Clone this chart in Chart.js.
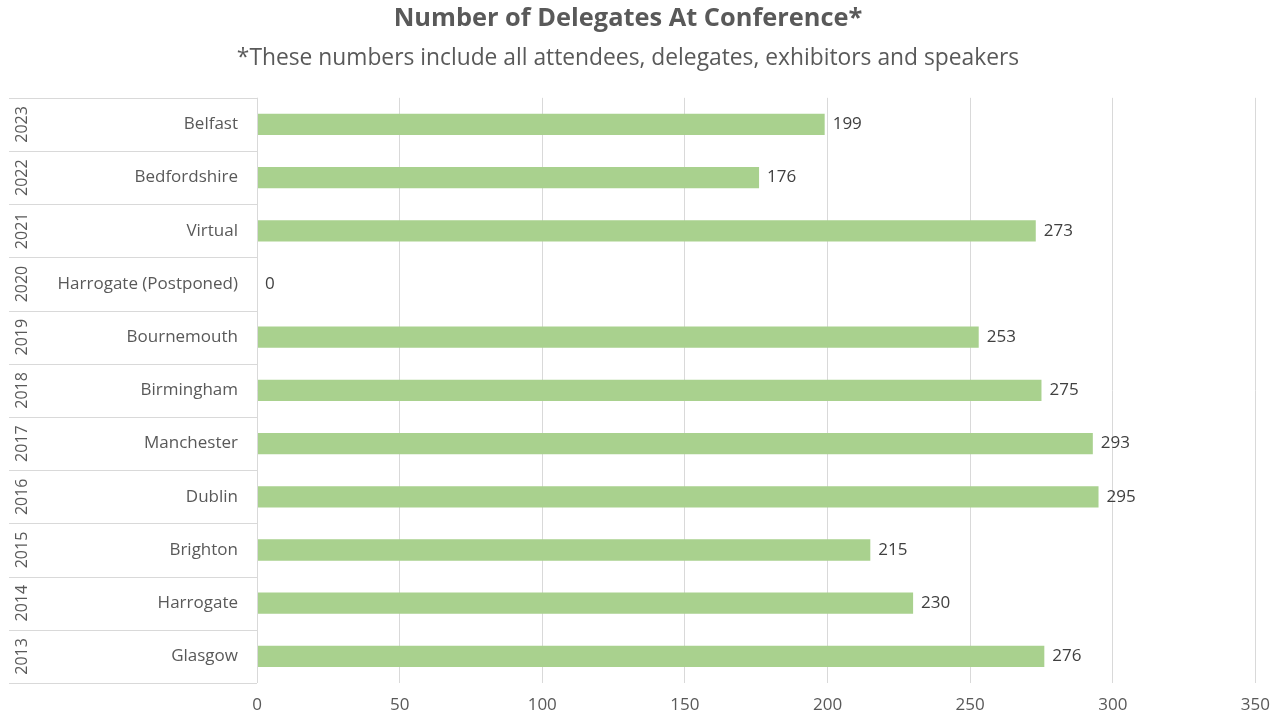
<!DOCTYPE html>
<html>
<head>
<meta charset="utf-8">
<script src="https://cdn.jsdelivr.net/npm/chart.js@4/dist/chart.umd.min.js"></script>
<style>
    html, body { margin: 0; padding: 0; background: #fff; }
    #wrap { width: 1282px; height: 719px; }
</style>
</head>
<body>
<div id="wrap"><canvas id="delegatesChart" width="1282" height="719"></canvas></div>
<script>
// Chart values
var venues = ['Belfast', 'Bedfordshire', 'Virtual', 'Harrogate (Postponed)', 'Bournemouth',
              'Birmingham', 'Manchester', 'Dublin', 'Brighton', 'Harrogate', 'Glasgow'];
var years = ['2023', '2022', '2021', '2020', '2019', '2018', '2017', '2016', '2015', '2014', '2013'];
var delegates = [199, 176, 273, 0, 253, 275, 293, 295, 215, 230, 276];
var xTicks = [0, 50, 100, 150, 200, 250, 300, 350];

var FONT = "'Open Sans', 'Noto Sans', sans-serif";
var TEXT = '#595959';

// Year column + separator lines on the left (multi-level category look)
var yearColumn = {
    id: 'yearColumn',
    afterDraw: function(chart) {
        var ctx = chart.ctx;
        var y = chart.scales.y;
        var area = chart.chartArea;
        var half = (y.getPixelForValue(1) - y.getPixelForValue(0)) / 2;
        ctx.save();
        ctx.strokeStyle = '#d9d9d9';
        ctx.lineWidth = 1;
        ctx.beginPath();
        for (var i = 0; i <= years.length; i++) {
            var py = Math.round(y.getPixelForValue(i) - half) + 0.5;
            ctx.moveTo(9, py);
            ctx.lineTo(area.left, py);
        }
        ctx.moveTo(area.left + 0.5, area.top);
        ctx.lineTo(area.left + 0.5, area.bottom);
        ctx.stroke();

        ctx.fillStyle = TEXT;
        ctx.font = '16px ' + FONT;
        ctx.textAlign = 'center';
        ctx.textBaseline = 'middle';
        years.forEach(function(yr, i) {
            ctx.save();
            ctx.translate(22, y.getPixelForValue(i));
            ctx.rotate(-Math.PI / 2);
            ctx.fillText(yr, 0, 0);
            ctx.restore();
        });
        ctx.restore();
    }
};

// Value labels at the end of each bar
var barValues = {
    id: 'barValues',
    afterDatasetsDraw: function(chart) {
        var ctx = chart.ctx;
        var meta = chart.getDatasetMeta(0);
        ctx.save();
        ctx.fillStyle = '#404040';
        ctx.font = '17px ' + FONT;
        ctx.textAlign = 'left';
        ctx.textBaseline = 'middle';
        meta.data.forEach(function(bar, i) {
            ctx.fillText(delegates[i], bar.x + 8, bar.y);
        });
        ctx.restore();
    }
};

new Chart(document.getElementById('delegatesChart'), {
    type: 'bar',
    data: {
        labels: venues,
        datasets: [{
            label: 'Delegates',
            data: delegates,
            backgroundColor: '#a9d18e',
            borderWidth: 0,
            categoryPercentage: 1,
            barPercentage: 0.4
        }]
    },
    options: {
        indexAxis: 'y',
        responsive: false,
        animation: false,
        layout: {
            padding: { left: 0, right: 26, top: 0, bottom: 0 }
        },
        plugins: {
            legend: { display: false },
            tooltip: { enabled: false },
            title: {
                display: true,
                text: 'Number of Delegates At Conference*',
                color: TEXT,
                font: { family: FONT, size: 25.4, weight: 'bold' },
                padding: { top: 4, bottom: 4 }
            },
            subtitle: {
                display: true,
                text: '*These numbers include all attendees, delegates, exhibitors and speakers',
                color: TEXT,
                font: { family: FONT, size: 22.8 },
                padding: { top: 6, bottom: 26 }
            }
        },
        scales: {
            x: {
                min: 0,
                max: 350,
                afterBuildTicks: function(scale) {
                    scale.ticks = xTicks.map(function(v) { return { value: v }; });
                },
                afterFit: function(scale) { scale.height = 36; },
                grid: {
                    color: '#d9d9d9',
                    drawTicks: false
                },
                border: { display: false },
                ticks: {
                    color: TEXT,
                    font: { family: FONT, size: 17 },
                    padding: 12
                }
            },
            y: {
                grid: { display: false },
                border: { display: false },
                afterFit: function(scale) { scale.width = 257; },
                ticks: {
                    color: TEXT,
                    font: { family: FONT, size: 17 },
                    padding: 11
                }
            }
        }
    },
    plugins: [yearColumn, barValues]
});
</script>
</body>
</html>
